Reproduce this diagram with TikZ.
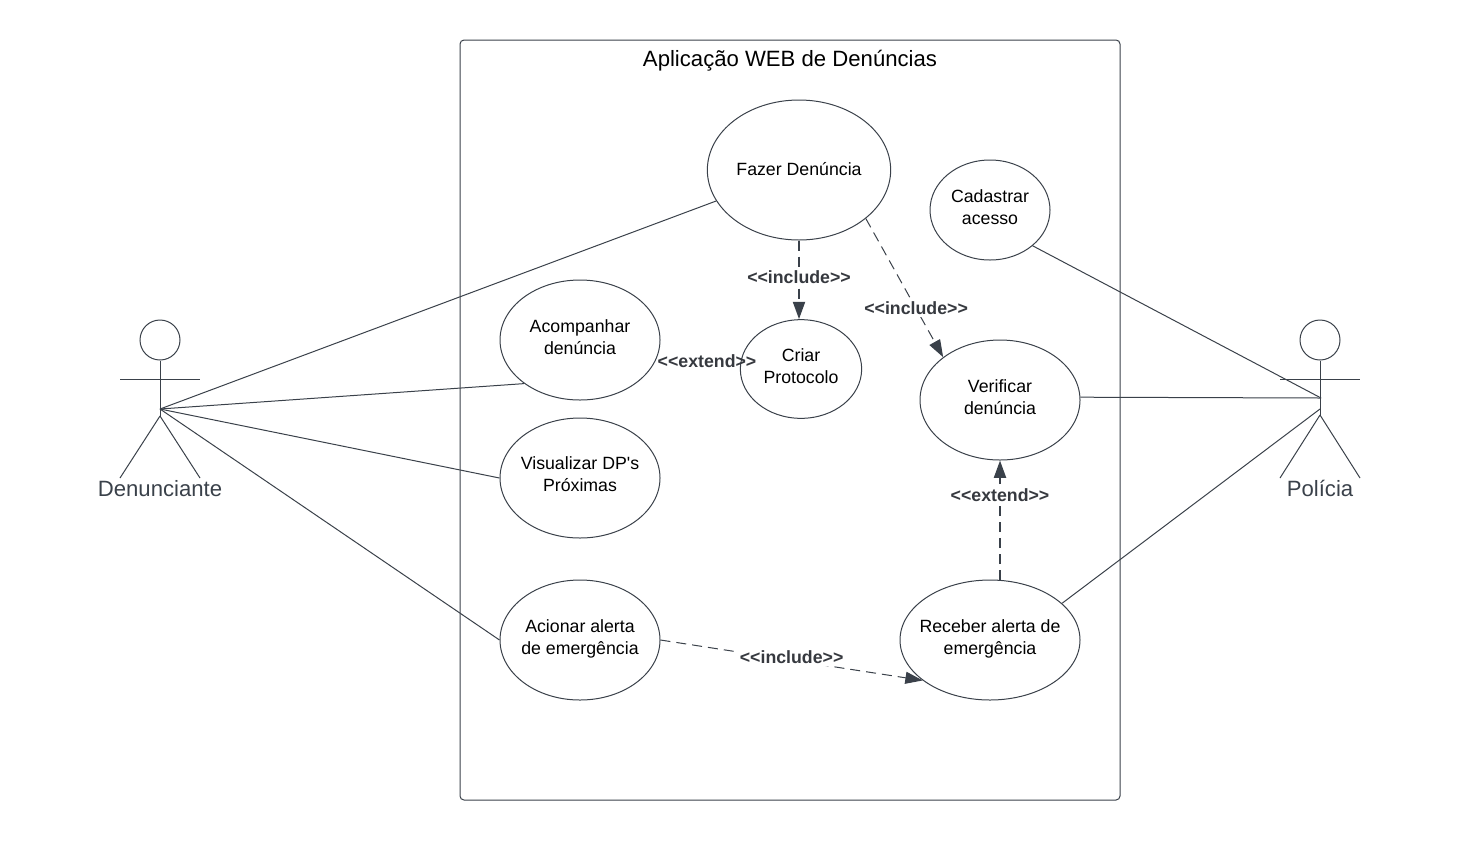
\documentclass[tikz,border=0pt]{standalone}
\usepackage{fontspec}
\setmainfont[Ligatures=TeXOff]{Liberation Sans}
\usepackage{xcolor}
\usetikzlibrary{shapes.geometric, arrows.meta}
\definecolor{umlline}{HTML}{3A414A}
\definecolor{umltext}{HTML}{36393F}
\tikzset{
  system/.style={rectangle, rounded corners=3pt, draw=umlline, line width=0.75pt, minimum width=495pt, minimum height=570pt},
  title/.style={font=\fontsize{16.6}{20}\selectfont, text=black, inner sep=0pt},
  usecase/.style={ellipse, draw=umlline, line width=0.75pt, align=center, inner sep=-20pt, text depth=4.5pt, text=black, font=\fontsize{13.3}{16}\selectfont},
  actorname/.style={font=\fontsize{16.6}{20}\selectfont, text=umlline, inner sep=0pt},
  head/.style={circle, draw=umlline, line width=0.75pt, minimum size=30pt, inner sep=0pt},
  stereo/.style={font=\bfseries\fontsize{13.3}{16}\selectfont, text=umltext, inner sep=1.5pt},
  assoc/.style={line width=0.75pt, umlline},
  dep/.style={-{Triangle[length=13pt, width=9pt]}, dash pattern=on 7.5pt off 4.5pt, line width=0.75pt, umlline},
  depthick/.style={dep, line width=1.5pt},
}
\begin{document}
\begin{tikzpicture}[x=0.75pt, y=-0.75pt]
\useasboundingbox (0,0) rectangle (1480,840);
\node[system] (app) at (790,420) {};
\node[title] (apptitle) at (790,61) {Aplicação WEB de Denúncias};
% casos de uso
\node[usecase, minimum width=137.5pt, minimum height=105pt, text depth=1pt] (fazer) at (799,170) {Fazer Denúncia};
\node[usecase, minimum width=90pt, minimum height=75pt] (cadastrar) at (990,210) {Cadastrar\\acesso};
\node[usecase, minimum width=120pt, minimum height=90pt] (acomp) at (580,340) {Acompanhar\\denúncia};
\node[usecase, minimum width=91pt, minimum height=74pt] (criar) at (801,369) {Criar\\Protocolo};
\node[usecase, minimum width=120pt, minimum height=90pt] (verif) at (1000,400) {Verificar\\denúncia};
\node[usecase, minimum width=120pt, minimum height=90pt, text depth=6pt] (visual) at (580,478) {Visualizar DP's\\Próximas};
\node[usecase, minimum width=120pt, minimum height=90pt] (acionar) at (580,640) {Acionar alerta\\de emergência};
\node[usecase, minimum width=135pt, minimum height=90pt] (receber) at (990,640) {Receber alerta de\\emergência};
% atores
\node[head] (denhead) at (160,340) {};
\coordinate (denarml) at (120,379);
\coordinate (denarmr) at (200,379);
\coordinate (denhip) at (160,409);
\coordinate (dencrotch) at (160,416);
\coordinate (denfootl) at (120,478);
\coordinate (denfootr) at (200,478);
\node[actorname] (denname) at (160,489) {Denunciante};
\draw[assoc] (denhead)--(dencrotch);\draw[assoc] (denarml)--(denarmr);\draw[assoc] (dencrotch)--(denfootl);\draw[assoc] (dencrotch)--(denfootr);
\node[head] (polhead) at (1320,340) {};
\coordinate (polarml) at (1280,379);
\coordinate (polarmr) at (1360,379);
\coordinate (polhip) at (1321,398);
\coordinate (polwaist) at (1320,409);
\coordinate (polcrotch) at (1320,415);
\coordinate (polfootl) at (1280,478);
\coordinate (polfootr) at (1360,478);
\node[actorname] (polname) at (1320,488) {Polícia};
\draw[assoc] (polhead)--(polcrotch);\draw[assoc] (polarml)--(polarmr);\draw[assoc] (polcrotch)--(polfootl);\draw[assoc] (polcrotch)--(polfootr);
% associacoes
\draw[assoc] (denhip)--(fazer);\draw[assoc] (denhip)--(acomp.218);\draw[assoc] (denhip)--(visual.west);\draw[assoc] (denhip)--(acionar.west);
\draw[assoc] (cadastrar.-40)--(polhip);\draw[assoc] (verif.2)--(polhip);\draw[assoc] (receber.27)--(polwaist);
% dependencias
\draw[depthick] (fazer.south)--(fazer.south |- criar.north) node[stereo, fill=white, pos=0.46] (inc1) {<<include>>};
\draw[dep] (fazer.-36)--(verif.143) node[stereo, fill=white, pos=0.65] (inc2) {<<include>>};
\draw[dep] (acionar.east)--(receber.-149.5) node[stereo, fill=white, pos=0.5, yshift=2pt] (inc3) {<<include>>};
\draw[depthick] (1000,580)--(verif.south) node[stereo, fill=white, pos=0.71] (ext1) {<<extend>>};
\node[stereo] (ext2) at (707,361) {<<extend>>};
\end{tikzpicture}
\end{document}
